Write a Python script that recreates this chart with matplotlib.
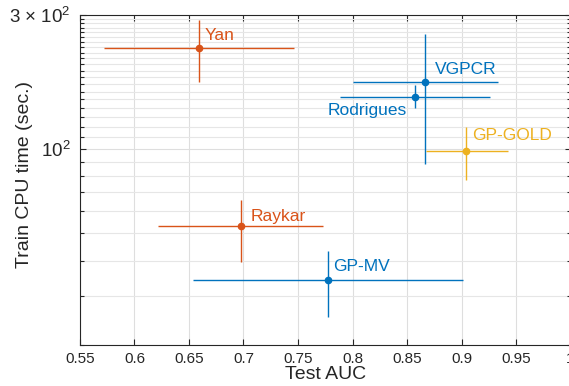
import matplotlib
matplotlib.use("Agg")
import matplotlib.pyplot as plt
from matplotlib.ticker import FixedLocator, NullFormatter
import numpy as np

plt.rcParams['font.family'] = ['Liberation Sans', 'DejaVu Sans']
plt.rcParams['mathtext.fontset'] = 'custom'
plt.rcParams['mathtext.rm'] = 'Liberation Sans'
plt.rcParams['mathtext.it'] = 'Liberation Sans'

methods = ['Yan', 'VGPCR', 'Rodrigues', 'GP-GOLD', 'Raykar', 'GP-MV']
auc = [0.659, 0.8665, 0.8576, 0.9044, 0.6974, 0.7775]
auc_lo = [0.572, 0.8007, 0.7885, 0.8675, 0.6218, 0.654]
auc_hi = [0.7466, 0.9331, 0.9261, 0.9424, 0.7726, 0.9017]
cpu = [229, 172.5, 153.6, 98.5, 53.0, 34.1]
cpu_lo = [172.6, 88.4, 139.9, 77.7, 39.6, 25.1]
cpu_hi = [288, 256.5, 168.8, 119.4, 66.0, 43.3]

blue = '#0072BD'
orange = '#D95319'
yellow = '#EDB120'
colors = [orange, blue, blue, yellow, orange, blue]
# label offsets in points (dx, dy) and alignment
offsets = [(4, 9, 'left'), (7, 9, 'left'), (-6, -10, 'right'), (4, 11, 'left'), (7, 7, 'left'), (4, 10, 'left')]

xticks = [0.55, 0.6, 0.65, 0.7, 0.75, 0.8, 0.85, 0.9, 0.95, 1.0]
xticklabels = ['0.55', '0.6', '0.65', '0.7', '0.75', '0.8', '0.85', '0.9', '0.95', '1']
yticks = [100, 300]
yticklabels = ['10$^2$', '3 × 10$^2$']
yminor = list(range(20, 301, 10))

fig = plt.figure(figsize=(5.69, 3.86), dpi=100)
ax = fig.add_axes([80/569, 1 - 345/386, 490.5/569, 330/386])
ax.set_yscale('log')
ax.set_xlim(0.55, 1.0)
ax.set_ylim(20, 300)

for i in range(len(methods)):
    c = colors[i]
    ax.plot([auc_lo[i], auc_hi[i]], [cpu[i], cpu[i]], color=c, lw=1.0, solid_capstyle='butt')
    ax.plot([auc[i], auc[i]], [cpu_lo[i], cpu_hi[i]], color=c, lw=1.0, solid_capstyle='butt')
    ax.plot(auc[i], cpu[i], 'o', color=c, ms=4.5, mec=c)
    dx, dy, ha = offsets[i]
    ax.annotate(methods[i], (auc[i], cpu[i]), xytext=(dx, dy), textcoords='offset points',
                ha=ha, va='center', color=c, fontsize=12.5)

ax.set_xticks(xticks)
ax.set_xticklabels(xticklabels)
ax.yaxis.set_major_locator(FixedLocator(yticks))
ax.set_yticks(yticks)
ax.set_yticklabels(yticklabels, fontsize=13.5)
ax.yaxis.set_minor_locator(FixedLocator(yminor))
ax.yaxis.set_minor_formatter(NullFormatter())

ax.grid(True, which='major', color='#DEDEDE', lw=0.8)
ax.grid(True, which='minor', axis='y', color='#E6E6E6', lw=0.8)
ax.set_axisbelow(True)

axc = '#262626'
for s in ax.spines.values():
    s.set_color(axc)
    s.set_linewidth(0.8)
ax.tick_params(which='both', direction='in', top=True, right=True, colors=axc, width=0.8)
ax.tick_params(axis='x', labelsize=11)
ax.tick_params(which='major', length=4.5, pad=5)
ax.tick_params(axis='y', which='major', pad=7)
ax.tick_params(which='minor', length=3)
ax.tick_params(axis='y', which='both', labelcolor=axc)

ax.set_xlabel('Test AUC', fontsize=14, color=axc, labelpad=0)
ax.set_ylabel('Train CPU time (sec.)', fontsize=14, color=axc)
ax.yaxis.set_label_coords(-0.096, 0.518)

fig.savefig('out.png', dpi=100)
